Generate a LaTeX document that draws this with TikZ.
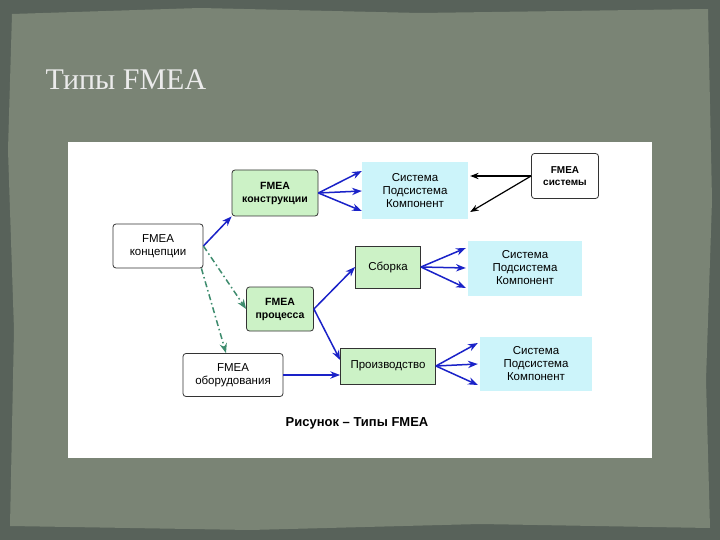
\documentclass[tikz,border=0pt]{standalone}
\usepackage{fontspec}
\setmainfont{Liberation Serif}
\newfontfamily\sansf{Liberation Sans}
\usetikzlibrary{arrows.meta}
\tikzset{>=Stealth}
\definecolor{slate}{HTML}{58625A}
\definecolor{paper}{HTML}{7A8475}
\definecolor{boxgreen}{HTML}{CCF2C6}
\definecolor{boxcyan}{HTML}{CCF4FA}
\definecolor{arrblue}{HTML}{1A22C8}
\definecolor{dashgreen}{HTML}{3E8C6E}
\tikzset{
    lbl/.style={font=\sansf\fontsize{11.5}{13}\selectfont, align=center, inner sep=2pt},
    whitebox/.style={lbl, draw=black!80, fill=white, rounded corners=3pt, thick},
    greenbox/.style={lbl, draw=black!80, fill=boxgreen, rounded corners=3pt, thick, font=\sansf\bfseries\fontsize{10.5}{13}\selectfont},
    flatbox/.style={lbl, draw=black!80, fill=boxgreen, thick},
    cyanbox/.style={lbl, fill=boxcyan},
    blue arr/.style={->, arrblue, line width=1.5pt},
    dash arr/.style={->, dashgreen, line width=1.5pt, dash pattern=on 6pt off 3pt on 1.5pt off 3pt},
}
\begin{document}
\begin{tikzpicture}[x=1pt, y=-1pt]
    \useasboundingbox (0,0) rectangle (720,540);
    \fill[slate] (0,0) rectangle (720,540);
    \fill[paper] (12,14) -- (200,8) -- (420,13) -- (708,9) -- (712,200) -- (706,380) -- (710,528) -- (480,524) -- (250,530) -- (10,526) -- (14,330) -- (8,150) -- cycle;
    \node[anchor=west, text=white!92!black, font=\fontsize{30}{32}\selectfont] (title) at (42,80) {Типы FMEA};
    \fill[white] (68,142) rectangle (652,458);
    % nodes
    \node[whitebox, minimum width=90, minimum height=44] (concept) at (158,246) {FMEA\\концепции};
    \node[greenbox, minimum width=86, minimum height=46] (konstr) at (275,193) {FMEA\\конструкции};
    \node[cyanbox, minimum width=106, minimum height=57] (sysA) at (415,191) {Система\\Подсистема\\Компонент};
    \node[whitebox, minimum width=67, minimum height=45, font=\sansf\bfseries\fontsize{10}{12}\selectfont] (fsys) at (565,176) {FMEA\\системы};
    \node[flatbox, minimum width=65, minimum height=42] (sborka) at (388,267) {Сборка};
    \node[cyanbox, minimum width=114, minimum height=55] (sysB) at (525,268) {Система\\Подсистема\\Компонент};
    \node[greenbox, minimum width=67, minimum height=44] (process) at (280,309) {FMEA\\процесса};
    \node[flatbox, minimum width=95, minimum height=36, inner sep=1pt] (proizv) at (388,366) {Производство};
    \node[cyanbox, minimum width=112, minimum height=54] (sysC) at (536,364) {Система\\Подсистема\\Компонент};
    \node[whitebox, minimum width=100, minimum height=43] (oborud) at (233,375) {FMEA\\оборудования};
    \node[font=\sansf\bfseries\fontsize{13}{15}\selectfont] (caption) at (357,423) {Рисунок – Типы FMEA};
    % connectors
    \draw[blue arr] (concept.east) -- (konstr.south west);
    \draw[dash arr] (concept.east) -- (process.west);
    \draw[dash arr] ([xshift=-2]concept.south east) -- ([xshift=-7]oborud.north);
    \foreach \dy in {-20,0,20}
        \draw[blue arr] (konstr.east) -- ([yshift=\dy]sysA.west);
    \draw[->, line width=1.2pt] (fsys.west) -- ([xshift=2,yshift=15]sysA.east);
    \draw[->, line width=1.2pt] (fsys.west) -- ([xshift=2,yshift=-21]sysA.east);
    \draw[blue arr] (process.east) -- (sborka.west);
    \draw[blue arr] (process.east) -- ([yshift=6]proizv.west);
    \draw[blue arr] (oborud.east) -- ([yshift=-9]proizv.west);
    \foreach \dy in {-20,0,20}
        \draw[blue arr] (sborka.east) -- ([xshift=-2,yshift=\dy]sysB.west);
    \foreach \dy in {-21,0,21}
        \draw[blue arr] (proizv.east) -- ([xshift=-2,yshift=\dy]sysC.west);
\end{tikzpicture}
\end{document}
